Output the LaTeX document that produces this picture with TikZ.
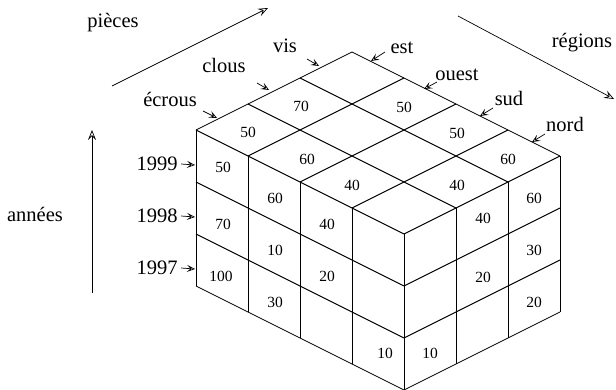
\documentclass[tikz,border=0pt]{standalone}
\usepackage{fontspec}
\setmainfont{Liberation Serif}
\usetikzlibrary{arrows.meta}

\begin{document}
\begin{tikzpicture}[x=1pt,y=-1pt,
  lbl/.style={font=\fontsize{20.5}{24}\selectfont, anchor=base, inner sep=0pt},
  val/.style={font=\fontsize{15.5}{18}\selectfont, inner sep=0pt},
  cubeline/.style={line width=1.0pt},
  cubeouter/.style={line width=0.7pt},
  axisarrow/.style={line width=0.7pt, -{Stealth[open,length=10pt,width=8pt,inset=4pt]}},
  tagarrow/.style={line width=0.7pt, -{Stealth[open,length=8pt,width=7pt,inset=3.5pt]}}]

\useasboundingbox (0,0) rectangle (616,390);

% ---- the data cube: pieces along x, regions along y, years along z ----
\begin{scope}[shift={(196pt,-130pt)}, x={(52pt,26pt)}, y={(52pt,-26pt)}, z={(0pt,-52pt)}]
  % top face (year 1999)
  \foreach \p in {0,1,2} \draw[cubeline] (\p,0,0) -- (\p,4,0);
  \draw[cubeouter] (3,0,0) -- (3,4,0);
  \foreach \r in {1,2,3,4} \draw[cubeline] (0,\r,0) -- (3,\r,0);
  \draw[cubeouter] (0,0,0) -- (3,0,0);
  % left face (écrous)
  \foreach \r in {1,2,3,4} \draw[cubeline] (0,\r,0) -- (0,\r,3);
  \draw[cubeouter] (0,0,0) -- (0,0,3);
  \foreach \k in {1,2} \draw[cubeline] (0,0,\k) -- (0,4,\k);
  \draw[cubeouter] (0,0,3) -- (0,4,3);
  % right face (nord)
  \foreach \p in {1,2} \draw[cubeline] (\p,4,0) -- (\p,4,3);
  \draw[cubeouter] (3,4,0) -- (3,4,3);
  \foreach \k in {1,2} \draw[cubeline] (0,4,\k) -- (3,4,\k);
  \draw[cubeouter] (0,4,3) -- (3,4,3);
\end{scope}

% ---- cell values ----
% top face
\node[val] (t1) at (248,132) {50};
\node[val] (t2) at (301,106) {70};
\node[val] (t3) at (404,107) {50};
\node[val] (t4) at (307,159) {60};
\node[val] (t5) at (457,133) {50};
\node[val] (t6) at (352,185) {40};
\node[val] (t7) at (457,185) {40};
\node[val] (t8) at (508,159) {60};
% left face
\node[val] (l1) at (223,167) {50};
\node[val] (l2) at (223,224) {70};
\node[val] (l3) at (221,276) {100};
\node[val] (l4) at (275,198) {60};
\node[val] (l5) at (275,250) {10};
\node[val] (l6) at (275,302) {30};
\node[val] (l7) at (327,224) {40};
\node[val] (l8) at (327,276) {20};
\node[val] (l9) at (385,353) {10};
% right face
\node[val] (r1) at (430,353) {10};
\node[val] (r2) at (483,218) {40};
\node[val] (r3) at (483,277) {20};
\node[val] (r4) at (534,198) {60};
\node[val] (r5) at (534,250) {30};
\node[val] (r6) at (534,302) {20};

% ---- dimension names with their direction arrows ----
\node[lbl] (pieces) at (113,28) {pièces};
\node[lbl] (regions) at (582,48) {régions};
\node[lbl] (annees) at (35,222) {années};

\coordinate (pa) at (112,86);  \coordinate (pb) at (268,8);
\coordinate (ra) at (458,16);  \coordinate (rb) at (614,99);
\coordinate (aa) at (92,293);  \coordinate (ab) at (92,130);
\draw[axisarrow] (pa) -- (pb);
\draw[axisarrow] (ra) -- (rb);
\draw[axisarrow] (aa) -- (ab);

% ---- member names pointing at the cube edges ----
\node[lbl] (ecrous) at (170,107) {écrous};
\node[lbl] (clous)  at (224,73)  {clous};
\node[lbl] (vis)    at (285,53)  {vis};
\node[lbl] (est)    at (402,54)  {est};
\node[lbl] (ouest)  at (457,81)  {ouest};
\node[lbl] (sud)    at (509,106) {sud};
\node[lbl] (nord)   at (565,132) {nord};
\node[lbl] (y1999)  at (157,171) {1999};
\node[lbl] (y1998)  at (157,223) {1998};
\node[lbl] (y1997)  at (157,275) {1997};

\coordinate (e0) at (203,111); \coordinate (e1) at (217,118);
\coordinate (c0) at (257,83);  \coordinate (c1) at (269,90);
\coordinate (v0) at (307,59);  \coordinate (v1) at (319,66);
\coordinate (s0) at (385,52);  \coordinate (s1) at (371,61);
\coordinate (o0) at (437,82);  \coordinate (o1) at (424,89);
\coordinate (d0) at (493,108); \coordinate (d1) at (480,116);
\coordinate (n0) at (545,134); \coordinate (n1) at (532,142);
\coordinate (a0) at (181,164); \coordinate (a1) at (195,165);
\coordinate (b0) at (181,216); \coordinate (b1) at (195,217);
\coordinate (g0) at (181,268); \coordinate (g1) at (195,269);
\foreach \s/\t in {e0/e1,c0/c1,v0/v1,s0/s1,o0/o1,d0/d1,n0/n1,a0/a1,b0/b1,g0/g1}
  \draw[tagarrow] (\s) -- (\t);
\end{tikzpicture}
\end{document}
